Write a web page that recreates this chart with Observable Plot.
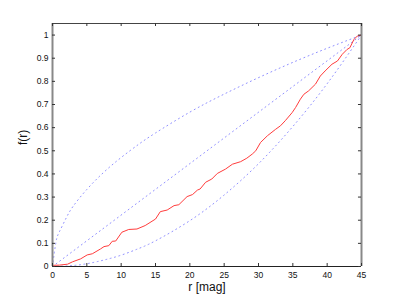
<!DOCTYPE html>
<html>
<head>
<meta charset="utf-8">
<script src="https://cdn.jsdelivr.net/npm/d3@7"></script>
<script src="https://cdn.jsdelivr.net/npm/@observablehq/plot@0.6"></script>
<style>
  body { margin: 0; background: #fff; }
  #chart { position: relative; width: 399px; height: 300px; }
  svg { font-family: "Liberation Sans", Arial, sans-serif; }
</style>
</head>
<body>
<div id="chart"></div>
<script>
// Tick values
const xTicks = [0, 5, 10, 15, 20, 25, 30, 35, 40, 45];
const yTicks = [0, 0.1, 0.2, 0.3, 0.4, 0.5, 0.6, 0.7, 0.8, 0.9, 1];
const yTickLabels = ["0", "0.1", "0.2", "0.3", "0.4", "0.5", "0.6", "0.7", "0.8", "0.9", "1"];

// Observed cumulative distribution (red)
const obsR = [0, 1, 2.2, 2.9, 4.1, 5.05, 5.8, 7, 7.5, 8.2, 8.7, 9.2, 10.1, 11.1, 12.3, 13.5, 15, 15.7, 16.7, 17.7, 18.4, 19.6, 20.4, 21.1, 21.5, 22.3, 23.2, 24, 25.2, 26.2, 27.4, 28.3, 29.1, 29.6, 30.3, 31.3, 32.5, 33.2, 33.9, 34.9, 35.4, 36.1, 36.6, 37.3, 38.3, 39, 39.7, 40.7, 41.5, 42.2, 42.9, 43.3, 43.9, 44.4, 45];
const obsF = [0.005, 0.006, 0.01, 0.02, 0.033, 0.05, 0.055, 0.076, 0.086, 0.09, 0.109, 0.11, 0.148, 0.16, 0.162, 0.177, 0.205, 0.237, 0.244, 0.263, 0.267, 0.302, 0.311, 0.33, 0.335, 0.364, 0.378, 0.402, 0.421, 0.442, 0.453, 0.468, 0.486, 0.5, 0.536, 0.565, 0.593, 0.608, 0.63, 0.665, 0.687, 0.723, 0.744, 0.759, 0.788, 0.823, 0.845, 0.874, 0.888, 0.917, 0.938, 0.945, 0.981, 0.996, 1];

// Reference curves (blue dotted)
const upperR = [0, 0.5, 1, 2, 3, 5, 7.5, 10, 12.5, 15, 20, 25, 30, 35, 40, 45];
const upperF = [0, 0.105, 0.15, 0.21, 0.26, 0.333, 0.408, 0.471, 0.527, 0.577, 0.667, 0.745, 0.816, 0.882, 0.943, 1];
const diagR = [0, 45];
const diagF = [0, 1];
const lowerR = [0, 2.5, 5, 7.5, 10, 12.5, 15, 20, 25, 30, 35, 40, 45];
const lowerF = [0, 0.003, 0.012, 0.028, 0.049, 0.077, 0.111, 0.198, 0.309, 0.444, 0.605, 0.79, 1];

const zip = (xs, ys) => xs.map((x, i) => ({x, y: ys[i]}));
const obs = zip(obsR, obsF);
const upper = zip(upperR, upperF);
const diag = zip(diagR, diagF);
const lower = zip(lowerR, lowerF);

const xMax = 45, yMax = 1.05;
const tkY = 0.013, tkX = 0.44;
const blue = "#9090ff";

const plot = Plot.plot({
  width: 399,
  height: 300,
  marginLeft: 52,
  marginRight: 38,
  marginTop: 23,
  marginBottom: 34,
  style: {fontFamily: "Liberation Sans, Arial, sans-serif", fontSize: "8.5px", color: "#111", background: "#fff"},
  x: {domain: [0, xMax], label: null},
  y: {domain: [0, yMax], label: null},
  marks: [
    Plot.line(upper, {x: "x", y: "y", stroke: blue, strokeWidth: 1, strokeDasharray: "1,3.5", curve: "natural"}),
    Plot.line(diag, {x: "x", y: "y", stroke: blue, strokeWidth: 1, strokeDasharray: "1,3.5"}),
    Plot.line(lower, {x: "x", y: "y", stroke: blue, strokeWidth: 1, strokeDasharray: "1,3.5", curve: "natural"}),
    Plot.line(obs, {x: "x", y: "y", stroke: "#ff3c3c", strokeWidth: 1}),
    // frame
    Plot.ruleX([0], {stroke: "#888", strokeWidth: 2}),
    Plot.ruleX([xMax], {stroke: "#888", strokeWidth: 2}),
    Plot.ruleY([0], {stroke: "#222", strokeWidth: 1.2}),
    Plot.ruleY([yMax], {stroke: "#444", strokeWidth: 1.2}),
    // inward ticks
    Plot.ruleX(xTicks, {x: d => d, y1: 0, y2: tkY, stroke: "#333"}),
    Plot.ruleX(xTicks, {x: d => d, y1: yMax - tkY, y2: yMax, stroke: "#333"}),
    Plot.ruleY(yTicks, {y: d => d, x1: 0, x2: tkX, stroke: "#333"}),
    Plot.ruleY(yTicks, {y: d => d, x1: xMax - tkX, x2: xMax, stroke: "#333"}),
    Plot.axisX({ticks: xTicks, tickSize: 0, tickPadding: 5, tickFormat: d => String(d), fontSize: 8.5, fill: "#111"}),
    Plot.axisY({ticks: yTicks, tickSize: 0, tickPadding: 4, tickFormat: (d, i) => yTickLabels[i], fontSize: 8.5, fill: "#111"}),
    Plot.text(["r [mag]"], {frameAnchor: "bottom", dy: 24, fontSize: 12, fill: "#111"}),
    Plot.text(["f(r)"], {frameAnchor: "left", dx: -29, rotate: -90, fontSize: 12, fill: "#111"})
  ]
});
document.getElementById("chart").appendChild(plot);
</script>
</body>
</html>
